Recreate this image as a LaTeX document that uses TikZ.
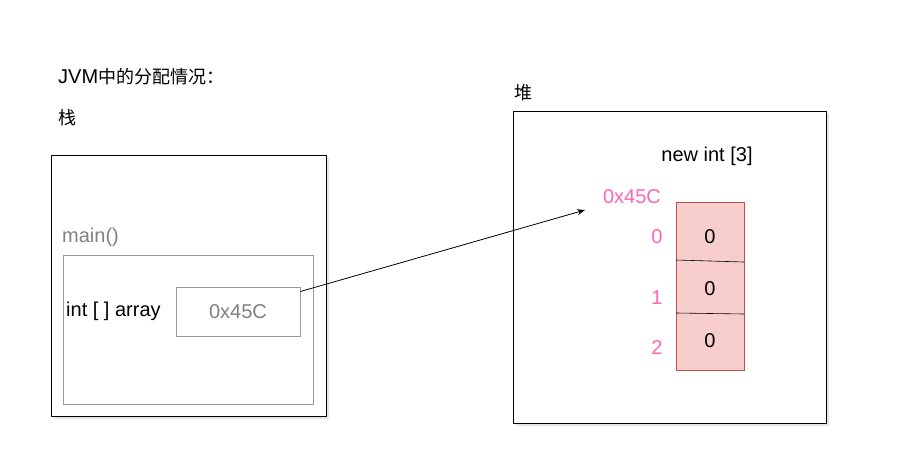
\documentclass[tikz,border=0pt]{standalone}
\usepackage{fontspec}
\setmainfont{Liberation Sans}
\newfontfamily\cjk{Noto Sans CJK SC}
\usetikzlibrary{arrows.meta}
\definecolor{pk}{HTML}{F8CECC}
\definecolor{pkd}{HTML}{B85450}
\definecolor{pkt}{HTML}{FF66B3}
\tikzset{
 x=1pt,y=-1pt,
 lbl/.style={font=\fontsize{20}{22}\selectfont,inner sep=0pt},
 gbox/.style={draw=gray!80,line width=0.8pt},
 shadowbox/.style={draw=black,line width=0.8pt,fill=white},
}
\begin{document}
\begin{tikzpicture}
\useasboundingbox (0,0) rectangle (920,463);
\node[lbl,anchor=west] (t1) at (58,77) {JVM{\cjk\fontsize{18}{20}\selectfont 中的分配情况：}};
\node[lbl,anchor=west] (t2) at (58,118) {\cjk\fontsize{18}{20}\selectfont 栈};
\fill[gray!20] (54,158) rectangle (329,419);
\draw[shadowbox] (51,155) rectangle (326,416);
\node[lbl,anchor=west,text=gray] (mn) at (62,237) {main()};
\draw[gbox] (63,255) rectangle (313,404);
\node[lbl,anchor=west] (arr) at (66,311) {int [ ] array};
\node[gbox,minimum width=124pt,minimum height=49pt,lbl,text=gray] (ref) at (238,311.5) {0x45C};
\node[lbl,anchor=west] (t3) at (514,93) {\cjk\fontsize{18}{20}\selectfont 堆};
\fill[gray!20] (516,114) rectangle (829,426);
\draw[shadowbox] (513,111) rectangle (826,423);
\node[lbl] (ni) at (707,156) {new int [3]};
\node[lbl,text=pkt] (addr) at (632,197) {0x45C};
\draw[draw=pkd,fill=pk,line width=0.6pt] (676,202) rectangle (744,370);
\draw[line width=0.6pt] (676,260) -- (744,262);
\draw[line width=0.6pt] (676,313) -- (744,314);
\node[lbl] (c0) at (710,237) {0};
\node[lbl] (c1) at (710,289) {0};
\node[lbl] (c2) at (710,341) {0};
\node[lbl,text=pkt] (i0) at (657,237) {0};
\node[lbl,text=pkt] (i1) at (657,298) {1};
\node[lbl,text=pkt] (i2) at (657,348) {2};
\coordinate (tip) at (585,210);
\draw[-{Stealth[length=8pt,width=6pt]},line width=0.8pt] (ref.east) ++(0,-20) -- (tip);
\end{tikzpicture}
\end{document}
